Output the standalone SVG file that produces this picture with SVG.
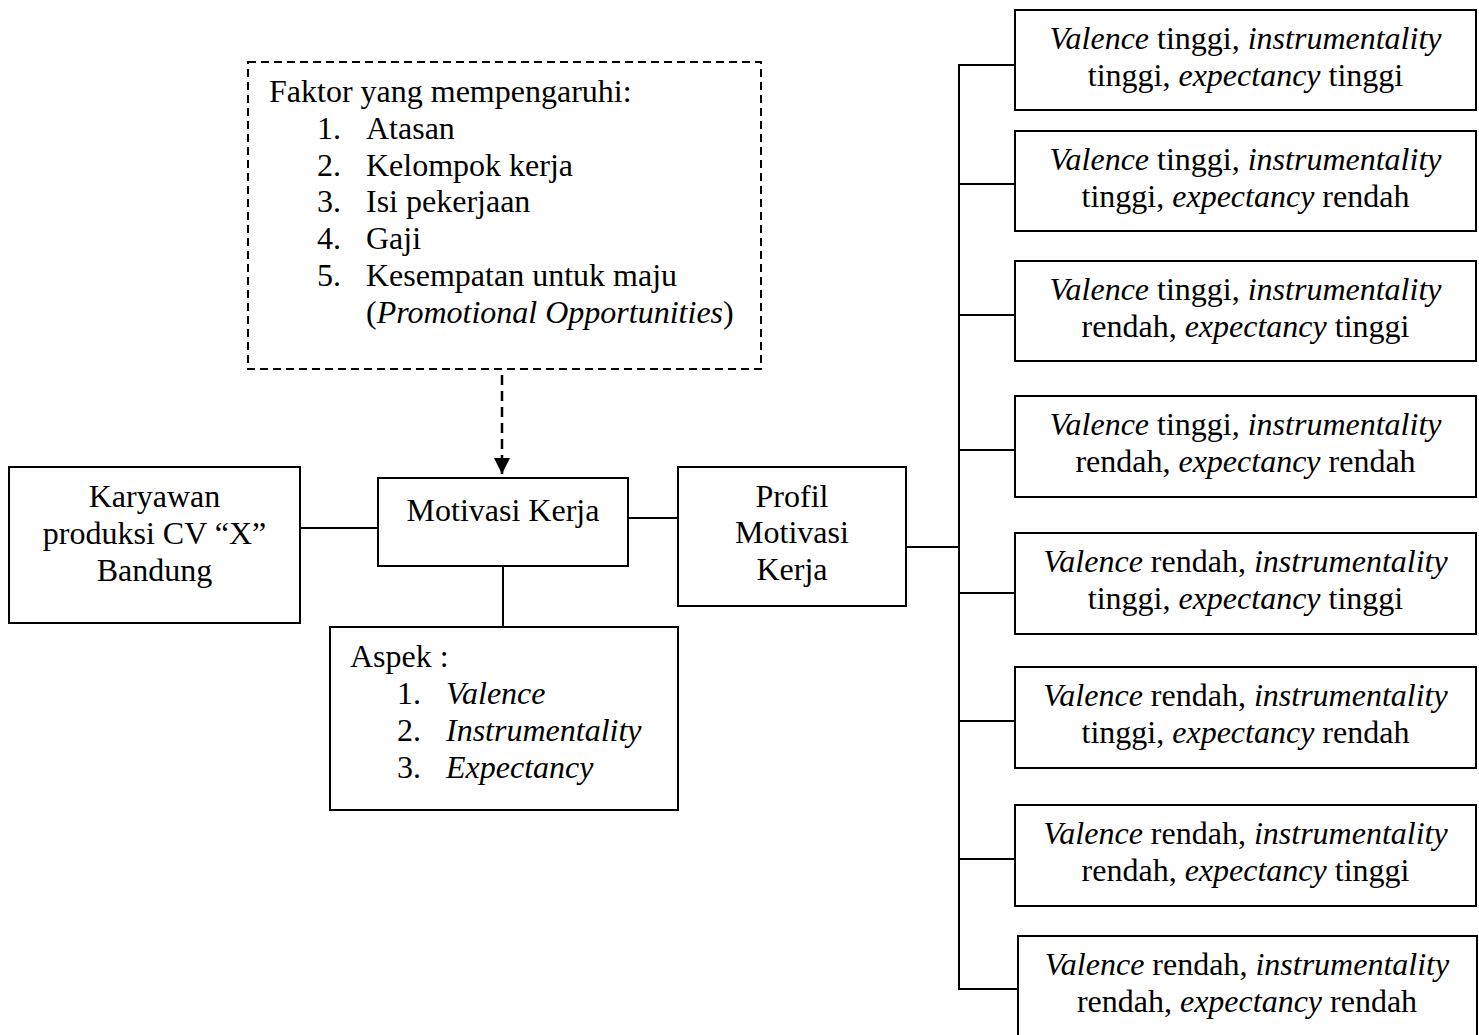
<svg xmlns="http://www.w3.org/2000/svg" width="1479" height="1035" viewBox="0 0 1479 1035">
<style>
  .box { fill: #fff; stroke: #000; stroke-width: 2; }
  .dbox { fill: #fff; stroke: #000; stroke-width: 2; stroke-dasharray: 8 5; }
  .ln { fill: none; stroke: #000; stroke-width: 2; }
  .dln { fill: none; stroke: #000; stroke-width: 2.5; stroke-dasharray: 10 6; }
  text { font-family: "Liberation Serif", "Times New Roman", serif; font-size: 32px; fill: #000; }
  .c { text-anchor: middle; }
  .i { font-style: italic; }
</style>
<defs>
  <marker id="arr" markerUnits="userSpaceOnUse" markerWidth="18" markerHeight="18" viewBox="0 0 18 18" refX="16" refY="9" orient="auto">
    <path d="M0,1 L16,9 L0,17 Z" fill="#000"/>
  </marker>
</defs>
<rect width="1479" height="1035" fill="#fff"/>

<g id="connectors">
  <line class="dln" x1="502" y1="375" x2="502" y2="474" marker-end="url(#arr)"/>
  <line class="ln" x1="300" y1="528" x2="378" y2="528"/>
  <line class="ln" x1="628" y1="518" x2="678" y2="518"/>
  <line class="ln" x1="503" y1="566" x2="503" y2="627"/>
  <line class="ln" x1="906" y1="547" x2="959" y2="547"/>
  <line class="ln" x1="959" y1="64" x2="959" y2="990"/>
  <line class="ln" x1="958" y1="65" x2="1015" y2="65"/>
  <line class="ln" x1="958" y1="184" x2="1015" y2="184"/>
  <line class="ln" x1="958" y1="315" x2="1015" y2="315"/>
  <line class="ln" x1="958" y1="450" x2="1015" y2="450"/>
  <line class="ln" x1="958" y1="593" x2="1015" y2="593"/>
  <line class="ln" x1="958" y1="721" x2="1015" y2="721"/>
  <line class="ln" x1="958" y1="859" x2="1015" y2="859"/>
  <line class="ln" x1="958" y1="989" x2="1018" y2="989"/>
</g>

<g id="faktor">
  <rect class="dbox" x="248" y="62" width="513" height="307"/>
  <text x="269" y="102">Faktor yang mempengaruhi:</text>
  <text x="317" y="138.8">1.</text><text x="366" y="138.8">Atasan</text>
  <text x="317" y="175.6">2.</text><text x="366" y="175.6">Kelompok kerja</text>
  <text x="317" y="212.4">3.</text><text x="366" y="212.4">Isi pekerjaan</text>
  <text x="317" y="249.2">4.</text><text x="366" y="249.2">Gaji</text>
  <text x="317" y="286">5.</text><text x="366" y="286">Kesempatan untuk maju</text>
  <text x="366" y="322.8">(<tspan class="i">Promotional Opportunities</tspan>)</text>
</g>

<g id="karyawan">
  <rect class="box" x="9" y="467" width="291" height="156"/>
  <text class="c" x="154.5" y="507">Karyawan</text>
  <text class="c" x="154.5" y="544">produksi CV “X”</text>
  <text class="c" x="154.5" y="581">Bandung</text>
</g>

<g id="motivasi">
  <rect class="box" x="378" y="478" width="250" height="88"/>
  <text class="c" x="503" y="521">Motivasi Kerja</text>
</g>

<g id="aspek">
  <rect class="box" x="330" y="627" width="348" height="183"/>
  <text x="350" y="667">Aspek :</text>
  <text x="397" y="704">1.</text><text class="i" x="446" y="704">Valence</text>
  <text x="397" y="741">2.</text><text class="i" x="446" y="741">Instrumentality</text>
  <text x="397" y="778">3.</text><text class="i" x="446" y="778">Expectancy</text>
</g>

<g id="profil">
  <rect class="box" x="678" y="467" width="228" height="139"/>
  <text class="c" x="792" y="507">Profil</text>
  <text class="c" x="792" y="543">Motivasi</text>
  <text class="c" x="792" y="580">Kerja</text>
</g>

<g id="p1">
  <rect class="box" x="1015" y="10" width="461" height="100"/>
  <text class="c" x="1245.5" y="49"><tspan class="i">Valence</tspan> tinggi, <tspan class="i">instrumentality</tspan></text>
  <text class="c" x="1245.5" y="86">tinggi, <tspan class="i">expectancy</tspan> tinggi</text>
</g>
<g id="p2">
  <rect class="box" x="1015" y="131" width="461" height="100"/>
  <text class="c" x="1245.5" y="170"><tspan class="i">Valence</tspan> tinggi, <tspan class="i">instrumentality</tspan></text>
  <text class="c" x="1245.5" y="207">tinggi, <tspan class="i">expectancy</tspan> rendah</text>
</g>
<g id="p3">
  <rect class="box" x="1015" y="261" width="461" height="100"/>
  <text class="c" x="1245.5" y="300"><tspan class="i">Valence</tspan> tinggi, <tspan class="i">instrumentality</tspan></text>
  <text class="c" x="1245.5" y="337">rendah, <tspan class="i">expectancy</tspan> tinggi</text>
</g>
<g id="p4">
  <rect class="box" x="1015" y="396" width="461" height="101"/>
  <text class="c" x="1245.5" y="435"><tspan class="i">Valence</tspan> tinggi, <tspan class="i">instrumentality</tspan></text>
  <text class="c" x="1245.5" y="472">rendah, <tspan class="i">expectancy</tspan> rendah</text>
</g>
<g id="p5">
  <rect class="box" x="1015" y="533" width="461" height="101"/>
  <text class="c" x="1245.5" y="572"><tspan class="i">Valence</tspan> rendah, <tspan class="i">instrumentality</tspan></text>
  <text class="c" x="1245.5" y="609">tinggi, <tspan class="i">expectancy</tspan> tinggi</text>
</g>
<g id="p6">
  <rect class="box" x="1015" y="667" width="461" height="101"/>
  <text class="c" x="1245.5" y="706"><tspan class="i">Valence</tspan> rendah, <tspan class="i">instrumentality</tspan></text>
  <text class="c" x="1245.5" y="743">tinggi, <tspan class="i">expectancy</tspan> rendah</text>
</g>
<g id="p7">
  <rect class="box" x="1015" y="805" width="461" height="101"/>
  <text class="c" x="1245.5" y="844"><tspan class="i">Valence</tspan> rendah, <tspan class="i">instrumentality</tspan></text>
  <text class="c" x="1245.5" y="881">rendah, <tspan class="i">expectancy</tspan> tinggi</text>
</g>
<g id="p8">
  <rect class="box" x="1018" y="936" width="459" height="100"/>
  <text class="c" x="1247" y="975"><tspan class="i">Valence</tspan> rendah, <tspan class="i">instrumentality</tspan></text>
  <text class="c" x="1247" y="1012">rendah, <tspan class="i">expectancy</tspan> rendah</text>
</g>
</svg>
